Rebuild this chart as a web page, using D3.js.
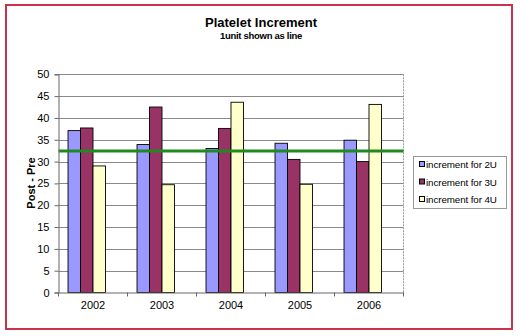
<!DOCTYPE html>
<html><head><meta charset="utf-8">
<script src="https://cdn.jsdelivr.net/npm/d3@7"></script>
<style>body{margin:0;background:#fff}svg{display:block;font-family:"Liberation Sans",Arial,sans-serif}</style>
</head><body><svg id="c" width="520" height="336"></svg>
<script>
const years = ["2002","2003","2004","2005","2006"];
const series = ["increment for 2U","increment for 3U","increment for 4U","1unit"];
const inc2U = [37.1, 33.9, 33.0, 34.2, 34.9];
const inc3U = [37.7, 42.5, 37.6, 30.5, 30.0];
const inc4U = [29.0, 24.7, 43.6, 24.8, 43.1];
const inc1U = [32.4, 32.4, 32.4, 32.4, 32.4];
const yTicks = [0,5,10,15,20,25,30,35,40,45,50];
const colors = ["#9999FF","#993366","#FFFFCC"];
const barData = [inc2U, inc3U, inc4U];

const svg = d3.select("#c");
svg.append("rect").attr("x",6).attr("y",5).attr("width",506).attr("height",324)
  .attr("fill","#fff").attr("stroke","#c8334a").attr("stroke-width",2);

const L=58.5, R=403.5, T=74.3, B=292.5;
const x0 = d3.scaleBand().domain(years).range([L,R]).paddingInner(0.276).paddingOuter(0.138);
const x1 = d3.scaleBand().domain(series).range([0,x0.bandwidth()]);
const y = d3.scaleLinear().domain([0,50]).range([B,T]);

// grid
svg.append("g").selectAll("line").data(yTicks.filter(d=>d>0)).join("line")
  .attr("x1",L).attr("x2",R).attr("y1",d=>Math.round(y(d))+0.5).attr("y2",d=>Math.round(y(d))+0.5)
  .attr("stroke","#8a8a8a").attr("stroke-width",1);
svg.append("line").attr("x1",R).attr("x2",R).attr("y1",T).attr("y2",B).attr("stroke","#9a9a9a").attr("stroke-dasharray","2,1");

// bars
barData.forEach((vals,si)=>{
  svg.append("g").selectAll("rect").data(vals).join("rect")
    .attr("x",(d,i)=>x0(years[i])+x1(series[si]))
    .attr("width",x1.bandwidth())
    .attr("y",d=>y(d)).attr("height",d=>y(0)-y(d))
    .attr("fill",colors[si]).attr("stroke","#000").attr("stroke-width",0.9);
});

// 1unit line
svg.append("path").datum(inc1U)
  .attr("d",d3.line().x((d,i)=>i===0?L:(i===inc1U.length-1?R:x0(years[i])+x0.bandwidth()/2)).y(d=>y(d)))
  .attr("fill","none").attr("stroke","#1f8a1f").attr("stroke-width",3);

// y axis
const ya = svg.append("g").attr("transform",`translate(${L},0)`)
  .call(d3.axisLeft(y).tickValues(yTicks).tickSize(4).tickPadding(5));
ya.selectAll("text").attr("font-size",11).attr("fill","#000").style("font-family","Liberation Sans, Arial");
ya.select(".domain").attr("stroke","#666");
ya.selectAll(".tick line").attr("stroke","#666");

// x axis
const xa = svg.append("g").attr("transform",`translate(0,${B})`)
  .call(d3.axisBottom(x0).tickSize(0).tickPadding(9));
xa.selectAll("text").attr("font-size",11).attr("fill","#000").style("font-family","Liberation Sans, Arial");
xa.select(".domain").attr("stroke","#666");
const bounds = years.map(yr=>x0(yr)-x0.step()*x0.paddingInner()/2).concat([R]);
svg.append("g").selectAll("line").data(bounds).join("line")
  .attr("x1",d=>d).attr("x2",d=>d).attr("y1",B).attr("y2",B+4).attr("stroke","#666");

// titles
svg.append("text").attr("x",261).attr("y",27).attr("text-anchor","middle")
  .attr("font-size",13).attr("font-weight","bold").text("Platelet Increment");
svg.append("text").attr("x",261).attr("y",39).attr("text-anchor","middle")
  .attr("font-size",9.5).attr("font-weight","bold").attr("letter-spacing",-0.3).text("1unit shown as line");
svg.append("text").attr("transform","translate(35,183) rotate(-90)").attr("text-anchor","middle")
  .attr("font-size",11).attr("font-weight","bold").text("Post - Pre");

// legend
const lg = svg.append("g");
lg.append("rect").attr("x",413.5).attr("y",156.5).attr("width",93).attr("height",52)
  .attr("fill","#fff").attr("stroke","#999");
series.slice(0,3).forEach((s,i)=>{
  const yy = 168 + i*17.5;
  lg.append("rect").attr("x",419.5).attr("y",yy-6.5).attr("width",5).attr("height",5)
    .attr("fill",colors[i]).attr("stroke","#000").attr("stroke-width",1);
  lg.append("text").attr("x",426).attr("y",yy).attr("font-size",9.8).attr("letter-spacing",-0.1).text(s);
});
</script></body></html>
